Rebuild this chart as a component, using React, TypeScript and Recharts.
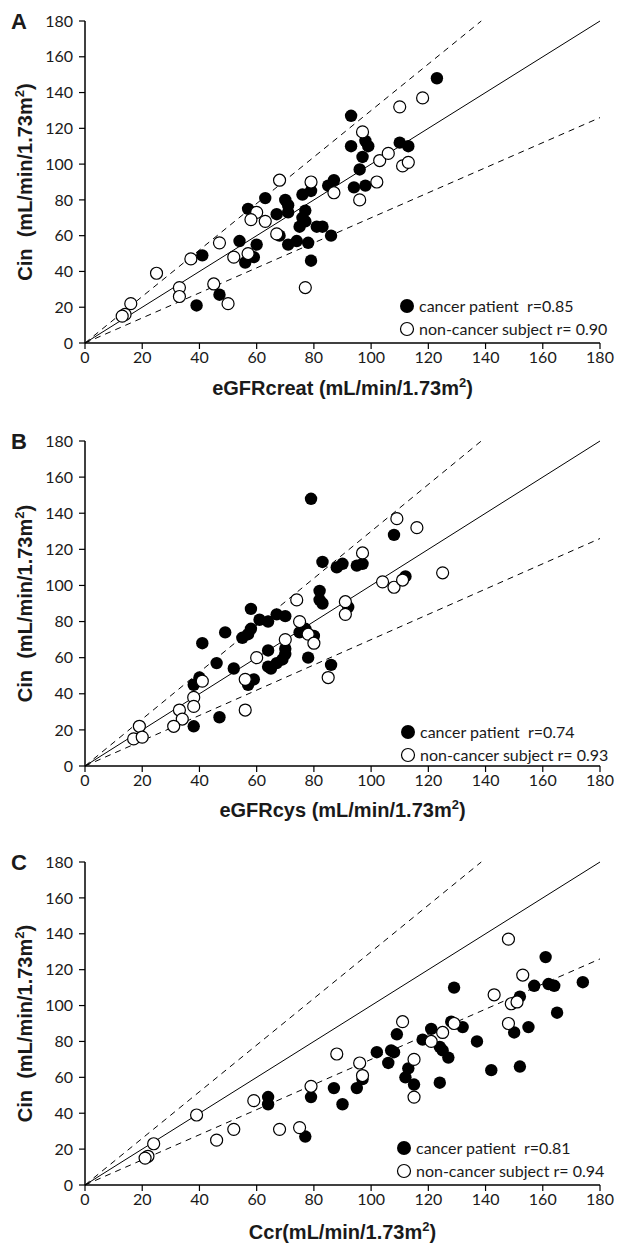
import React from 'react';
import { ScatterChart, Scatter, XAxis, YAxis, ReferenceLine, Legend } from 'recharts';

// ---------- data ----------
const axisTicks = [0, 20, 40, 60, 80, 100, 120, 140, 160, 180];

// reference lines (identity, +30%, -30%)
const identityLine = [{ x: 0, y: 0 }, { x: 180, y: 180 }];
const upperLine = [{ x: 0, y: 0 }, { x: 138.5, y: 180 }];
const lowerLine = [{ x: 0, y: 0 }, { x: 180, y: 126 }];

// Panel A: eGFRcreat vs Cin
const aCancerX = [123, 93, 93, 98, 99, 97, 96, 110, 113, 94, 98, 85, 87, 76, 79, 63, 70, 71, 57, 67, 71, 77, 76, 77, 75, 81, 83, 86, 68, 74, 71, 78, 54, 60, 59, 56, 79, 41, 47, 39];
const aCancerY = [148, 127, 110, 113, 110, 104, 97, 112, 110, 87, 88, 88, 91, 83, 85, 81, 80, 77, 75, 72, 73, 74, 70, 68, 65, 65, 65, 60, 60, 57, 55, 56, 57, 55, 48, 45, 46, 49, 27, 21];
const aNonX = [118, 110, 97, 103, 106, 111, 113, 102, 79, 68, 87, 96, 60, 58, 63, 67, 57, 47, 52, 37, 25, 45, 77, 33, 33, 50, 16, 14, 13];
const aNonY = [137, 132, 118, 102, 106, 99, 101, 90, 90, 91, 84, 80, 73, 69, 68, 61, 50, 56, 48, 47, 39, 33, 31, 31, 26, 22, 22, 16, 15];

// Panel B: eGFRcys vs Cin
const bCancerX = [79, 108, 83, 88, 90, 95, 97, 112, 82, 82, 83, 92, 58, 61, 64, 67, 70, 49, 55, 57, 58, 75, 77, 80, 41, 64, 70, 70, 69, 78, 46, 52, 64, 67, 65, 86, 57, 59, 40, 38, 47, 38];
const bCancerY = [148, 128, 113, 110, 112, 111, 112, 105, 97, 92, 90, 88, 87, 81, 80, 84, 83, 74, 71, 73, 76, 74, 76, 72, 68, 64, 65, 62, 59, 60, 57, 54, 55, 57, 54, 56, 45, 48, 49, 45, 27, 22];
const bNonX = [109, 116, 97, 104, 108, 111, 125, 74, 91, 91, 75, 78, 80, 70, 60, 56, 41, 38, 38, 33, 34, 31, 56, 85, 19, 17, 20];
const bNonY = [137, 132, 118, 102, 99, 103, 107, 92, 91, 84, 80, 73, 68, 70, 60, 48, 47, 38, 33, 31, 26, 22, 31, 49, 22, 15, 16];

// Panel C: Ccr vs Cin
const cCancerX = [161, 129, 157, 162, 164, 174, 152, 165, 128, 132, 121, 109, 150, 155, 102, 107, 108, 106, 118, 124, 125, 127, 137, 113, 112, 115, 124, 142, 152, 87, 95, 97, 64, 64, 79, 90, 77];
const cCancerY = [127, 110, 111, 112, 111, 113, 105, 96, 91, 88, 87, 84, 85, 88, 74, 75, 74, 68, 81, 77, 75, 71, 80, 65, 60, 56, 57, 64, 66, 54, 54, 59, 49, 45, 49, 45, 27];
const cNonX = [148, 153, 143, 149, 151, 148, 111, 125, 129, 121, 88, 96, 97, 115, 115, 79, 59, 39, 68, 75, 46, 52, 24, 22, 21];
const cNonY = [137, 117, 106, 101, 102, 90, 91, 85, 90, 80, 73, 68, 61, 70, 49, 55, 47, 39, 31, 32, 25, 31, 23, 16, 15];

const legendA = ['cancer patient  r=0.85', 'non-cancer subject r= 0.90'];
const legendB = ['cancer patient  r=0.74', 'non-cancer subject r= 0.93'];
const legendC = ['cancer patient  r=0.81', 'non-cancer subject r= 0.94'];

const xTitles = ['eGFRcreat (mL/min/1.73m', 'eGFRcys (mL/min/1.73m', 'Ccr(mL/min/1.73m'];
const panelLetters = ['A', 'B', 'C'];

const zip = (xs: number[], ys: number[]) => xs.map((x, i) => ({ x, y: ys[i] }));

// ---------- layout ----------
const W = 632;
const PLOT_LEFT = 85;
const RIGHT_MARGIN = 32;
const TICK_FONT = 'Lato, "Open Sans", sans-serif';
const TITLE_FONT = '"Liberation Sans", Arial, sans-serif';

const panels = [
  { top: 0, height: 410, plotTop: 21, plotBottom: 343, titleBaseline: 395, legendTop: 294, legendLeft: 399, cancer: zip(aCancerX, aCancerY), non: zip(aNonX, aNonY), legend: legendA },
  { top: 420, height: 410, plotTop: 441, plotBottom: 766, titleBaseline: 817, legendTop: 720, legendLeft: 400, cancer: zip(bCancerX, bCancerY), non: zip(bNonX, bNonY), legend: legendB },
  { top: 838, height: 415, plotTop: 862, plotBottom: 1185, titleBaseline: 1239, legendTop: 1136, legendLeft: 396, cancer: zip(cCancerX, cCancerY), non: zip(cNonX, cNonY), legend: legendC },
];

const FilledDot = (p: any) => <circle cx={p.cx} cy={p.cy} r={6.2} fill="#000" />;
const OpenDot = (p: any) => <circle cx={p.cx} cy={p.cy} r={6} fill="#fff" stroke="#000" strokeWidth={1.2} />;

const LegendBox = ({ labels }: { labels: string[] }) => (
  <div style={{ fontFamily: TICK_FONT, fontSize: 16, color: '#1a1a1a', lineHeight: '23px' }}>
    {labels.map((t, i) => (
      <div key={i} style={{ display: 'flex', alignItems: 'center', height: 23, whiteSpace: 'pre' }}>
        <svg width={16} height={16} style={{ flex: 'none' }}>
          {i === 0 ? (
            <circle cx={8} cy={8} r={7} fill="#000" />
          ) : (
            <circle cx={8} cy={8} r={6.5} fill="#fff" stroke="#000" strokeWidth={1.2} />
          )}
        </svg>
        <span style={{ marginLeft: 4 }}>{t}</span>
      </div>
    ))}
  </div>
);

function Panel({ idx }: { idx: number }) {
  const cfg = panels[idx];
  const xAxisH = 30;
  const localTop = cfg.plotTop - cfg.top;
  const localBottom = cfg.plotBottom - cfg.top;
  const margin = { top: localTop, right: RIGHT_MARGIN, left: 0, bottom: cfg.height - localBottom - xAxisH };
  const plotMid = (localTop + localBottom) / 2;
  const plotCenterX = (PLOT_LEFT + (W - RIGHT_MARGIN)) / 2;

  const XTitle = () => (
    <text x={plotCenterX} y={cfg.titleBaseline - cfg.top} textAnchor="middle" fontFamily={TITLE_FONT} fontWeight="bold" fontSize={20} fill="#1a1a1a">
      {xTitles[idx]}
      <tspan dy={-8} fontSize={13}>2</tspan>
      <tspan dy={8}>)</tspan>
    </text>
  );

  const YTitle = () => (
    <g>
      <text x={19} y={localTop + 8} textAnchor="middle" fontFamily={TITLE_FONT} fontWeight="bold" fontSize={22} fill="#1a1a1a">
        {panelLetters[idx]}
      </text>
      <text
        x={32}
        y={plotMid}
        transform={`rotate(-90, 32, ${plotMid})`}
        textAnchor="middle"
        fontFamily={TITLE_FONT}
        fontWeight="bold"
        fontSize={20}
        fill="#1a1a1a"
        style={{ whiteSpace: 'pre' }}
      >
        {'Cin  (mL/min/1.73m'}
        <tspan dy={-8} fontSize={13}>2</tspan>
        <tspan dy={8}>)</tspan>
      </text>
    </g>
  );

  return (
    <div style={{ position: 'absolute', left: 0, top: cfg.top }}>
      <ScatterChart width={W} height={cfg.height} margin={margin}>
        <XAxis
          type="number"
          dataKey="x"
          domain={[0, 180]}
          ticks={axisTicks}
          height={xAxisH}
          interval={0}
          axisLine={{ stroke: '#000', strokeWidth: 1.5 }}
          tickLine={{ stroke: '#000', strokeWidth: 1.2 }}
          tickSize={6}
          tickMargin={3}
          tick={{ fontFamily: TICK_FONT, fontSize: 16, fill: '#1a1a1a' }}
          label={<XTitle />}
        />
        <YAxis
          type="number"
          dataKey="y"
          domain={[0, 180]}
          ticks={axisTicks}
          width={PLOT_LEFT}
          interval={0}
          axisLine={{ stroke: '#000', strokeWidth: 1.5 }}
          tickLine={{ stroke: '#000', strokeWidth: 1.2 }}
          tickSize={6}
          tickMargin={6}
          tick={{ fontFamily: TICK_FONT, fontSize: 16, fill: '#1a1a1a' }}
          label={<YTitle />}
        />
        <ReferenceLine segment={identityLine} stroke="#000" strokeWidth={1} ifOverflow="visible" />
        <ReferenceLine segment={upperLine} stroke="#000" strokeWidth={1} strokeDasharray="6 5" ifOverflow="visible" />
        <ReferenceLine segment={lowerLine} stroke="#000" strokeWidth={1} strokeDasharray="6 5" ifOverflow="visible" />
        <Scatter name="cancer patient" data={cfg.cancer} fill="#000" shape={FilledDot} isAnimationActive={false} />
        <Scatter name="non-cancer subject" data={cfg.non} fill="#fff" shape={OpenDot} isAnimationActive={false} />
        <Legend
          layout="horizontal"
          verticalAlign="middle"
          align="center"
          wrapperStyle={{ left: cfg.legendLeft, top: cfg.legendTop - cfg.top, width: 232 }}
          content={() => <LegendBox labels={cfg.legend} />}
        />
      </ScatterChart>
    </div>
  );
}

export default function App() {
  return (
    <div style={{ position: 'absolute', left: 0, top: 0, width: W, height: 1253, background: '#fff' }}>
      <Panel idx={0} />
      <Panel idx={1} />
      <Panel idx={2} />
    </div>
  );
}
